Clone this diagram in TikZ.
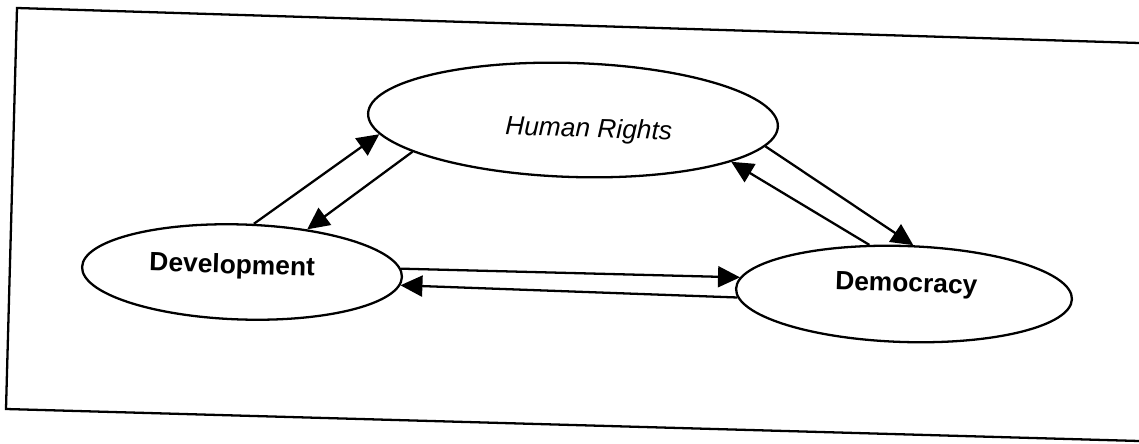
\documentclass[tikz,border=0pt]{standalone}
\usepackage{fontspec}
\setmainfont{Liberation Sans}
\usetikzlibrary{shapes.geometric,arrows.meta}

\tikzset{
  bubble/.style={ellipse, draw, line width=1.3pt, inner sep=0pt, rotate=-1.8},
  link/.style={-{Triangle[length=0.44cm,width=0.42cm]}, line width=1.3pt},
  every label/.style={font=\fontsize{15pt}{17pt}\selectfont, rotate=-1.8}
}

\begin{document}
\begin{tikzpicture}
            \useasboundingbox (0,0) rectangle (22.78,8.86);
            \draw[line width=1.3pt] (22.78,8.00) -- (0.34,8.70) -- (0.12,0.68) -- (22.78,0.04);
            \node[bubble, minimum width=8.2cm, minimum height=2.28cm,
                  label={[shift={(0.32,-0.2)}]center:\textit{Human Rights}}] (hr) at (11.46,6.46) {};
            \node[bubble, minimum width=6.4cm, minimum height=1.9cm,
                  label={[shift={(-0.2,0.1)}]center:\textbf{Development}}] (dev) at (4.84,3.42) {};
            \node[bubble, minimum width=6.72cm, minimum height=1.92cm,
                  label={[shift={(0.04,0.17)}]center:\textbf{Democracy}}] (dem) at (18.08,2.98) {};
            \draw[link] (dev.78) -- (hr.186);
            \draw[link] (hr.193) -- (dev.35);
            \draw[link] (hr.354) -- (dem.81);
            \draw[link] (dem.127) -- (hr.347);
            \draw[link] (dev.3) -- (dem.176);
            \draw[link] (dem.183) -- (dev.357);
        \end{tikzpicture}
\end{document}
